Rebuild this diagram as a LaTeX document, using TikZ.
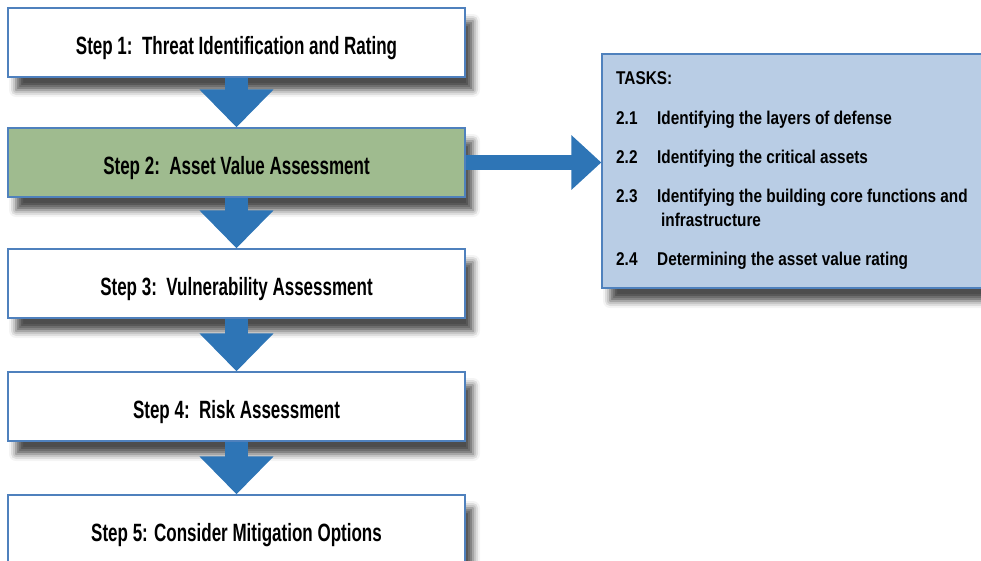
\documentclass[tikz,border=0pt]{standalone}
\usepackage{fontspec}
\setmainfont{Liberation Sans}[FakeStretch=0.68]
\newfontfamily\taskfont{Liberation Sans}[FakeStretch=0.83]
\usetikzlibrary{arrows.meta,shadows.blur}

\definecolor{boxline}{RGB}{79,129,189}
\definecolor{stepgreen}{RGB}{159,187,143}
\definecolor{taskblue}{RGB}{185,205,229}
\definecolor{arrowblue}{RGB}{46,117,182}

\newcommand{\tasknum}[1]{\makebox[41pt][l]{#1}}

\tikzset{
  stepbox/.style={draw=boxline, line width=1.4pt, fill=white, inner sep=0pt,
    minimum width=457pt, minimum height=69pt, text height=24pt, text depth=0pt,
    font=\fontsize{25}{28}\selectfont\bfseries,
    blur shadow={shadow xshift=8pt, shadow yshift=-13pt, shadow blur radius=7pt, shadow opacity=70}},
  taskbox/.style={stepbox, fill=taskblue, minimum width=388pt, minimum height=234pt},
  tasktext/.style={anchor=base west, inner sep=0pt, font=\taskfont\fontsize{18.5}{20}\selectfont\bfseries},
  flowarrow/.style={draw=arrowblue, line width=23pt,
    -{Triangle[width=72pt,length=38pt]}}
}

\begin{document}
\begin{tikzpicture}[x=1pt,y=-1pt]
\useasboundingbox (0,0) rectangle (981,560);
\clip (0,0) rectangle (981,560);

% the five steps
\node [stepbox] (s1) at (236.5,42.5) {Step 1:\ \ Threat Identification and Rating};
\node [stepbox, fill=stepgreen] (s2) at (236.5,162.5) {Step 2:\ \ Asset Value Assessment};
\node [stepbox] (s3) at (236.5,283.5) {Step 3:\ \ Vulnerability Assessment};
\node [stepbox] (s4) at (236.5,406.5) {Step 4:\ \ Risk Assessment};
\node [stepbox] (s5) at (236.5,529.5) {Step 5: Consider Mitigation Options};

% tasks of step 2
\node [taskbox] (tasks) at (796,171) {};
\node [tasktext] (t0) at (616,84) {TASKS:};
\node [tasktext] (t1) at (616,124) {\tasknum{2.1}Identifying the layers of defense};
\node [tasktext] (t2) at (616,163) {\tasknum{2.2}Identifying the critical assets};
\node [tasktext] (t3) at (616,202) {\tasknum{2.3}Identifying the building core functions and};
\node [tasktext] (t3b) at (661,226) {infrastructure};
\node [tasktext] (t4) at (616,265) {\tasknum{2.4}Determining the asset value rating};

% arrows
\draw [flowarrow] (s1.south) -- (s2.north);
\draw [flowarrow] (s2.south) -- (s3.north);
\draw [flowarrow] (s3.south) -- (s4.north);
\draw [flowarrow] (s4.south) -- (s5.north);
\draw [flowarrow, line width=15pt, -{Triangle[width=53pt,length=30pt]}] (s2.east) -- (s2.east -| tasks.west);
\end{tikzpicture}
\end{document}
